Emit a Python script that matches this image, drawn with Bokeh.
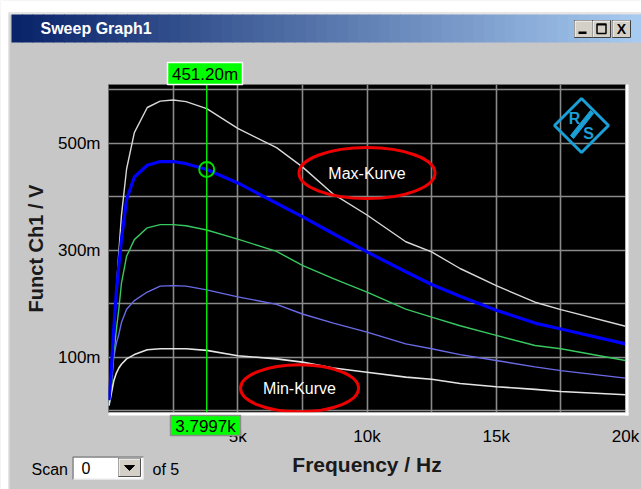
from bokeh.plotting import figure
from bokeh.models import Range1d, FixedTicker, Span
from bokeh.core.properties import value
from bokeh.embed import file_html
from bokeh.resources import INLINE

# ---------------- data ----------------
freq_hz = [20, 100, 200, 300, 400, 500, 700, 1000, 1500, 2000, 2500, 3000, 3800,
           5000, 6500, 7500, 8700, 10000, 11500, 12500, 13600, 15000, 16500, 17500, 20000]
max_curve = [0.01, 0.06, 0.135, 0.224, 0.297, 0.365, 0.452, 0.52, 0.567, 0.579, 0.581, 0.578, 0.565,
             0.528, 0.492, 0.456, 0.405, 0.366, 0.316, 0.297, 0.266, 0.234, 0.203, 0.189, 0.158]
blue_curve = [0.02, 0.07, 0.15, 0.22, 0.272, 0.32, 0.395, 0.437, 0.459, 0.466, 0.466, 0.462, 0.451,
              0.426, 0.388, 0.363, 0.331, 0.297, 0.26, 0.236, 0.214, 0.188, 0.164, 0.153, 0.125]
green_curve = [0.01, 0.04, 0.10, 0.15, 0.19, 0.238, 0.289, 0.32, 0.342, 0.348, 0.348, 0.346, 0.338,
               0.321, 0.298, 0.272, 0.247, 0.222, 0.19, 0.175, 0.159, 0.141, 0.122, 0.116, 0.094]
purple_curve = [0.01, 0.05, 0.10, 0.125, 0.143, 0.165, 0.19, 0.206, 0.222, 0.233, 0.234, 0.233, 0.226,
                0.213, 0.199, 0.181, 0.164, 0.147, 0.125, 0.116, 0.105, 0.094, 0.082, 0.075, 0.061]
min_curve = [0.01, 0.03, 0.055, 0.07, 0.08, 0.087, 0.097, 0.105, 0.114, 0.116, 0.116, 0.116, 0.113,
             0.103, 0.097, 0.091, 0.08, 0.072, 0.063, 0.059, 0.051, 0.045, 0.04, 0.036, 0.030]

x_grid_ticks = [0, 2500, 5000, 7500, 10000, 12500, 15000, 17500, 20000]
x_label_ticks = [5000, 10000, 15000, 20000]
x_tick_labels = ["5k", "10k", "15k", "20k"]
y_grid_ticks = [0, 0.1, 0.2, 0.3, 0.4, 0.5, 0.6]
y_label_ticks = [0.1, 0.3, 0.5]
y_tick_labels = ["100m", "300m", "500m"]

cursor_freq = 3799.7
cursor_value = 0.4512
cursor_freq_text = "3.7997k"
cursor_value_text = "451.20m"

callout_text = ["Max-Kurve", "Min-Kurve"]
callout_x = [10000, 7390]
callout_y = [0.4445, 0.042]

window_title = "Sweep Graph1"
scan_value = "0"
scan_count_text = "of 5"

# ---------------- main chart ----------------
GREY = "#c8c7c8"
FW, FH = 641, 489
FONT = "Liberation Sans"
L, T, R, B = 108, 84, 625, 412   # plot frame in page pixels

p = figure(width=FW, height=FH, x_range=Range1d(0, 20000), y_range=Range1d(-0.0032, 0.610),
           output_backend="svg", toolbar_location=None,
           min_border_left=L, min_border_right=FW - R, min_border_top=T, min_border_bottom=FH - B,
           background_fill_color="black", border_fill_color=GREY,
           outline_line_color="#6e6e6e", outline_line_width=1)

for ax in (p.xaxis[0], p.yaxis[0]):
    ax.axis_line_color = None
    ax.major_tick_line_color = None
    ax.minor_tick_line_color = None
    ax.major_tick_out = 0
    ax.major_tick_in = 0
    ax.major_label_text_font = FONT
    ax.major_label_text_font_size = "17px"
    ax.major_label_text_color = "black"
    ax.axis_label_text_font = FONT
    ax.axis_label_text_font_style = "bold"
    ax.axis_label_text_color = "#1a1a1a"

p.xaxis.ticker = FixedTicker(ticks=x_label_ticks)
p.xaxis.major_label_overrides = dict(zip(x_label_ticks, x_tick_labels))
p.xaxis.major_label_standoff = 14
p.xaxis.axis_label = "Frequency / Hz"
p.xaxis.axis_label_text_font_size = "21px"
p.xaxis.axis_label_standoff = 4
p.yaxis.ticker = FixedTicker(ticks=y_label_ticks)
p.yaxis.major_label_overrides = dict(zip(y_label_ticks, y_tick_labels))
p.yaxis.major_label_standoff = 8
p.yaxis.axis_label = "Funct Ch1 / V"
p.yaxis.axis_label_text_font_size = "20px"
p.yaxis.axis_label_standoff = 8

p.xgrid.ticker = FixedTicker(ticks=x_grid_ticks)
p.ygrid.ticker = FixedTicker(ticks=y_grid_ticks)
for g in (p.xgrid[0], p.ygrid[0]):
    g.grid_line_color = "#8a8a8a"
    g.grid_line_width = 1.6

p.line(freq_hz, max_curve, line_color="#d8d8d8", line_width=1.4)
p.line(freq_hz, green_curve, line_color="#38c860", line_width=1.4)
p.line(freq_hz, purple_curve, line_color="#6a6ae8", line_width=1.4)
p.line(freq_hz, min_curve, line_color="#e4e4e4", line_width=1.6)
p.line(freq_hz, blue_curve, line_color="#0000ff", line_width=3.2)

p.add_layout(Span(location=cursor_freq, dimension="height", line_color="#00ee00", line_width=1.4))
p.scatter([cursor_freq], [cursor_value], marker="circle", size=15, fill_color=None,
          line_color="#00e000", line_width=2)

p.ellipse(x=callout_x[:1], y=callout_y[:1], width=136, height=51, width_units="screen",
          height_units="screen", fill_color=None, line_color="#ee0000", line_width=3)
p.ellipse(x=callout_x[1:], y=callout_y[1:], width=118, height=47, width_units="screen",
          height_units="screen", fill_color=None, line_color="#ee0000", line_width=3)
p.text(x=callout_x, y=callout_y, text=callout_text, text_font=value(FONT), text_font_size="16px",
       text_color="white", text_align="center", text_baseline="middle")

# ---------------- window chrome: transparent overlay in page pixels ----------------
c = figure(width=FW, height=FH, x_range=Range1d(0, FW), y_range=Range1d(FH, 0),
           output_backend="svg", toolbar_location=None, min_border=0,
           x_axis_location=None, y_axis_location=None,
           background_fill_alpha=0, border_fill_alpha=0, outline_line_color=None)
c.title.visible = False
c.grid.visible = False
c.styles = {"position": "absolute", "top": "0px", "left": "0px"}


def rect(l, t, r, b, fill, line=None, lw=1):
    c.quad(left=[l], right=[r], top=[t], bottom=[b], fill_color=fill,
           fill_alpha=1 if fill else 0, line_color=line, line_width=lw)


def txt(x, y, s, size="16px", color="black", style="normal", align="left"):
    c.text(x=[x], y=[y], text=[s], text_font=value(FONT), text_font_size=size,
           text_color=color, text_font_style=style, text_align=align, text_baseline="middle")


# page surround and window border
rect(0, 0, FW, 12, "white")
rect(0, 0, 8, FH, "white")
rect(8, 12, FW, 13, "#e8e8e8")
rect(8, 12, 9, FH, "#e8e8e8")
rect(9, 13, FW, 14, "#f4f4f4")
# title bar gradient
c0 = (10, 36, 106)
c1 = (166, 202, 240)
n = 60
x_start = 11
lefts, rights, cols = [], [], []
for i in range(n):
    t = i / (n - 1)
    cols.append("#%02x%02x%02x" % tuple(int(c0[k] + (c1[k] - c0[k]) * t) for k in range(3)))
    lefts.append(x_start + (FW - x_start) * i / n)
    rights.append(x_start + (FW - x_start) * (i + 1) / n + 0.8)
c.quad(left=lefts, right=rights, top=[14] * n, bottom=[42] * n, fill_color=cols, line_color=None)
txt(40, 28, window_title, size="16px", color="white", style="bold")
# window buttons
for bx in (574, 592, 612):
    rect(bx, 20, bx + 18, 37, "#d4d0c8", "#404040", 1)
    c.line([bx + 0.5, bx + 0.5, bx + 17.5], [36.5, 20.5, 20.5], line_color="white", line_width=1)
rect(578, 31, 586, 33.5, "black")
rect(596.5, 23.5, 605.5, 33, None, "black", 1.5)
rect(596.5, 23.5, 605.5, 25, "black")
txt(621, 28.5, "X", size="14px", style="bold", align="center")

# 3D frame highlight (bottom / right)
rect(R, T, R + 3, B + 3, "white")
rect(L, B, R + 3, B + 3, "white")

# cursor value boxes
rect(167, 62, 242, 84, "#00ff00", "white", 1.5)
txt(204.5, 73.5, cursor_value_text, size="17px", align="center")
rect(170, 415, 240, 435, "#00ff00", "#8c8c8c", 1.5)
txt(205, 425.5, cursor_freq_text, size="17px", align="center")

# scan control
txt(31, 469, "Scan", size="16px")
rect(72, 456, 143, 479, "white", None)
c.line([72.5, 72.5, 143], [479, 456.5, 456.5], line_color="#808080", line_width=1.5)
c.line([73, 142.5, 142.5], [478.5, 478.5, 457], line_color="#e8e8e8", line_width=1)
txt(81, 467.5, scan_value, size="16px")
rect(118, 458, 140, 476, "#d4d0c8", "#505050", 1)
c.line([118.5, 118.5, 139.5], [475.5, 458.5, 458.5], line_color="white", line_width=1)
c.patch([124, 134, 129], [465, 465, 470], fill_color="black", line_color="black")
txt(152, 469, scan_count_text, size="16px")

# R&S logo
LOGO = "#1a9fd6"
c.patch([581, 608, 581, 554], [98, 125, 152, 125], fill_alpha=0, line_color=LOGO, line_width=3)
txt(574, 118, "R", size="16px", color=LOGO, style="bold", align="center")
txt(588, 133, "S", size="16px", color=LOGO, style="bold", align="center")
c.patch([590, 593, 573, 570], [110, 113, 138, 135], fill_color=LOGO, line_color=LOGO)

# two separate roots: the chart and the chrome overlay (no frame alignment between them)
open("out.html", "w").write(file_html([p, c], INLINE))
